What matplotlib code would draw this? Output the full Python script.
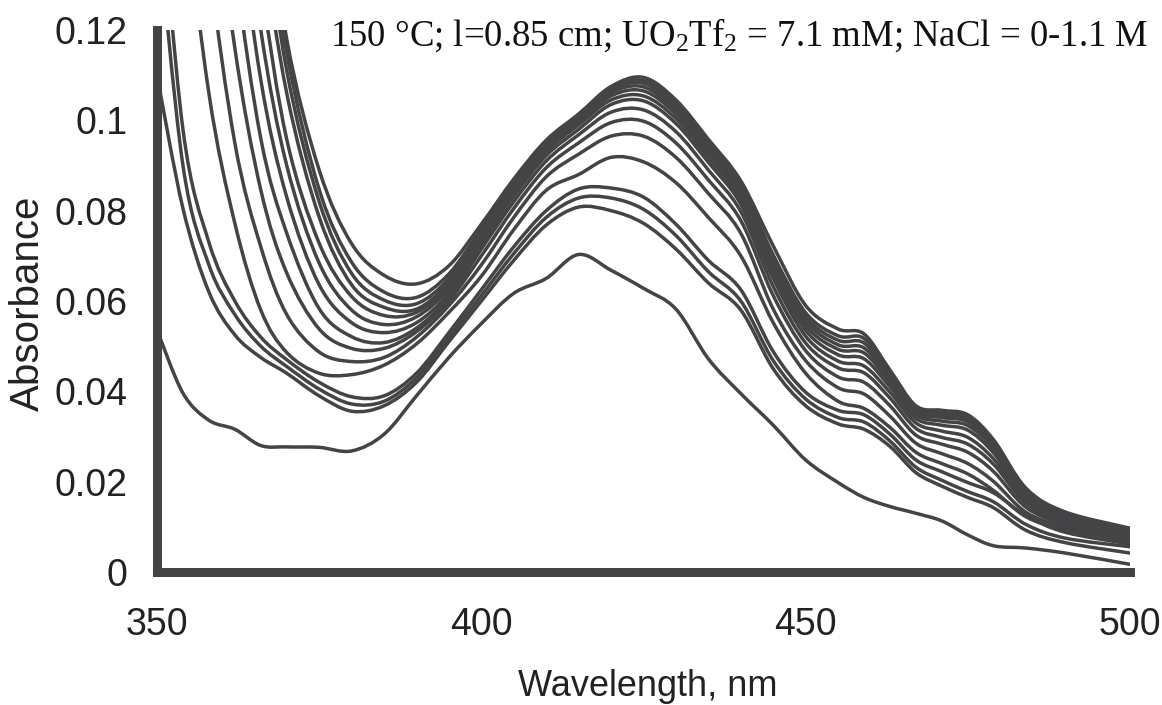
import numpy as np
import matplotlib
matplotlib.use("Agg")
import matplotlib.pyplot as plt
from matplotlib.path import Path
from matplotlib.patches import PathPatch
from matplotlib import font_manager

# wavelength grid (nm) the spectra were read at
wavelength = [350, 354, 358, 362, 366, 370, 375, 380, 385, 390, 395, 400, 405, 410, 415,
              420, 425, 430, 435, 440, 445, 450, 455, 459, 463, 467, 471, 475, 479, 484, 490, 500]

# absorbance, lowest (0 M NaCl) to highest (1.1 M NaCl); values above 0.12 run off the top
spec_01 = [.0536, .0396, .0336, .0316, .0280, .0277, .0276, .0268, .0305, .0390, .0475, .0550, .0617, .0650, .0703,
           .0668, .0628, .0582, .0472, .0395, .0325, .0248, .0198, .0165, .0145, .0130, .0113, .0082, .0058, .0053, .0042, .0017]
spec_02 = [.110, .0805, .0620, .0525, .0475, .0440, .0390, .0356, .0368, .0420, .0510, .0600, .0690, .0768, .0808,
           .0800, .0772, .0715, .0640, .0580, .0450, .0368, .0328, .0316, .0278, .0220, .0190, .0165, .0142, .0092, .0065, .0042]
spec_03 = [.145, .0900, .0680, .0570, .0500, .0455, .0405, .0372, .0378, .0430, .0520, .0612, .0705, .0785, .0828,
           .0828, .0803, .0745, .0665, .0600, .0468, .0383, .0342, .0332, .0290, .0232, .0203, .0178, .0155, .0105, .0075, .0056]
spec_04 = [.160, .0980, .0730, .0600, .0520, .0470, .0420, .0388, .0390, .0440, .0530, .0625, .0720, .0800, .0848,
           .0850, .0830, .0770, .0690, .0625, .0488, .0398, .0358, .0348, .0305, .0248, .0222, .0198, .0175, .0125, .0088, .0062]
spec_05 = [.219, .154, .106, .0772, .0580, .0486, .0440, .0437, .0458, .0505, .0575, .0655, .0758, .0845, .0880,
           .0918, .0908, .0862, .0785, .0700, .0552, .0440, .0378, .0362, .0320, .0265, .0240, .0217, .0180, .0122, .0094, .0068]
spec_06 = [.260, .194, .136, .0950, .0720, .0570, .0487, .0466, .0475, .0520, .0590, .0680, .0785, .0875, .0925,
           .0965, .0965, .0918, .0838, .0750, .0582, .0468, .0408, .0394, .0345, .0285, .0262, .0240, .0200, .0132, .0100, .0072]
spec_07 = [.280, .226, .163, .116, .0846, .0662, .0538, .0495, .0495, .0532, .0600, .0700, .0805, .0895, .0950,
           .0995, .0998, .0950, .0868, .0778, .0612, .0490, .0432, .0420, .0368, .0303, .0283, .0265, .0222, .0143, .0106, .0076]
spec_08 = [.290, .250, .190, .135, .0960, .0750, .0583, .0521, .0508, .0540, .0608, .0715, .0820, .0910, .0968,
           .1018, .1023, .0975, .0890, .0798, .0632, .0507, .0452, .0441, .0385, .0318, .0298, .0283, .0238, .0152, .0111, .0079]
spec_09 = [.300, .260, .207, .152, .109, .0830, .0636, .0552, .0530, .0552, .0617, .0725, .0832, .0922, .0980,
           .1035, .1043, .0993, .0907, .0814, .0650, .0522, .0467, .0456, .0398, .0330, .0312, .0298, .0250, .0159, .0115, .0082]
spec_10 = [.300, .280, .220, .166, .120, .0900, .0684, .0580, .0548, .0565, .0627, .0735, .0842, .0931, .0990,
           .1045, .1054, .1004, .0918, .0825, .0663, .0535, .0481, .0472, .0410, .0340, .0325, .0314, .0263, .0166, .0119, .0085]
spec_11 = [.300, .290, .235, .177, .131, .0958, .0728, .0610, .0568, .0575, .0635, .0742, .0850, .0938, .0996,
           .1054, .1065, .1014, .0928, .0835, .0675, .0546, .0493, .0485, .0420, .0348, .0334, .0324, .0272, .0171, .0122, .0087]
spec_12 = [.300, .295, .245, .192, .143, .106, .0786, .0636, .0586, .0582, .0642, .0750, .0856, .0944, .1001,
           .1061, .1074, .1022, .0936, .0843, .0685, .0556, .0503, .0496, .0428, .0354, .0342, .0332, .0278, .0175, .0125, .0090]
spec_13 = [.300, .298, .250, .200, .151, .111, .0820, .0661, .0602, .0594, .0650, .0755, .0861, .0948, .1005,
           .1066, .1082, .1030, .0943, .0850, .0694, .0565, .0513, .0507, .0434, .0359, .0348, .0339, .0284, .0179, .0128, .0092]
spec_14 = [.300, .300, .260, .207, .155, .115, .0847, .0686, .0620, .0608, .0660, .0760, .0865, .0952, .1009,
           .1070, .1088, .1037, .0950, .0857, .0702, .0574, .0523, .0517, .0440, .0363, .0352, .0344, .0288, .0182, .0130, .0094]
spec_15 = [.300, .300, .265, .210, .160, .118, .0890, .0727, .0657, .0638, .0678, .0770, .0870, .0956, .1014,
           .1075, .1095, .1045, .0958, .0866, .0722, .0590, .0538, .0527, .0447, .0368, .0358, .0348, .0292, .0185, .0133, .0097]

x_ticks = [350, 400, 450, 500]
y_ticks = [0, 0.02, 0.04, 0.06, 0.08, 0.1, 0.12]
y_tick_labels = ["0", "0.02", "0.04", "0.06", "0.08", "0.1", "0.12"]

spectra = [spec_01, spec_02, spec_03, spec_04, spec_05, spec_06, spec_07, spec_08,
           spec_09, spec_10, spec_11, spec_12, spec_13, spec_14, spec_15]

installed = {f.name for f in font_manager.fontManager.ttflist}
if "Liberation Sans Narrow" in installed:
    sans_narrow, tick_size, xlab_size = "Liberation Sans Narrow", 31, 30
else:
    sans_narrow, tick_size, xlab_size = "Liberation Sans", 27, 26

plt.rcParams["mathtext.fontset"] = "custom"
plt.rcParams["mathtext.rm"] = "Liberation Serif"
plt.rcParams["mathtext.it"] = "Liberation Serif:italic"

ink = "#444446"


def smooth_path(x, y):
    """Excel-style smoothed line: Catmull-Rom through the points as cubic Beziers."""
    pts = np.column_stack([x, y]).astype(float)
    n = len(pts)
    verts = [pts[0]]
    codes = [Path.MOVETO]
    for i in range(n - 1):
        p0 = pts[i - 1] if i > 0 else pts[i]
        p1, p2 = pts[i], pts[i + 1]
        p3 = pts[i + 2] if i + 2 < n else pts[i + 1]
        verts += [p1 + (p2 - p0) / 6, p2 - (p3 - p1) / 6, p2]
        codes += [Path.CURVE4] * 3
    return Path(verts, codes)


W, H = 1162, 705
fig = plt.figure(figsize=(W / 100, H / 100), dpi=100)
ax = fig.add_axes([157 / W, 1 - 572 / H, (1130 - 157) / W, (572 - 30) / H])

for spec in spectra:
    ax.add_patch(PathPatch(smooth_path(wavelength, spec), fill=False,
                           edgecolor=ink, linewidth=2.5, capstyle="round", joinstyle="round"))

ax.set_xlim(350, 500)
ax.set_ylim(0, 0.12)
ax.set_xticks(x_ticks)
ax.set_yticks(y_ticks)
ax.set_yticklabels(y_tick_labels)
for lab in ax.get_xticklabels() + ax.get_yticklabels():
    lab.set_family(sans_narrow)
    lab.set_fontsize(tick_size)
    lab.set_color("#222222")
ax.tick_params(axis="x", length=0, pad=25)
ax.tick_params(axis="y", length=0, pad=21)

for side in ["top", "right"]:
    ax.spines[side].set_visible(False)
for side in ["left", "bottom"]:
    ax.spines[side].set_linewidth(6.5)
    ax.spines[side].set_color(ink)
    ax.spines[side].set_zorder(5)

fig.text(648 / W, 1 - 696 / H, "Wavelength, nm", family=sans_narrow, fontsize=xlab_size,
         ha="center", va="baseline", color="#222222")
fig.text(28 / W, 1 - 303 / H, "Absorbance", family="Liberation Sans", fontsize=29,
         rotation=90, ha="center", va="center", color="#222222")
fig.text(1148 / W, 1 - 46 / H, "150 \u00b0C; l=0.85 cm; UO$_\\mathrm{2}$Tf$_\\mathrm{2}$ = 7.1 mM; NaCl = 0-1.1 M",
         family="Liberation Serif", fontsize=26.5, ha="right", va="baseline", color="#111111")

fig.savefig("out.png", dpi=100)
